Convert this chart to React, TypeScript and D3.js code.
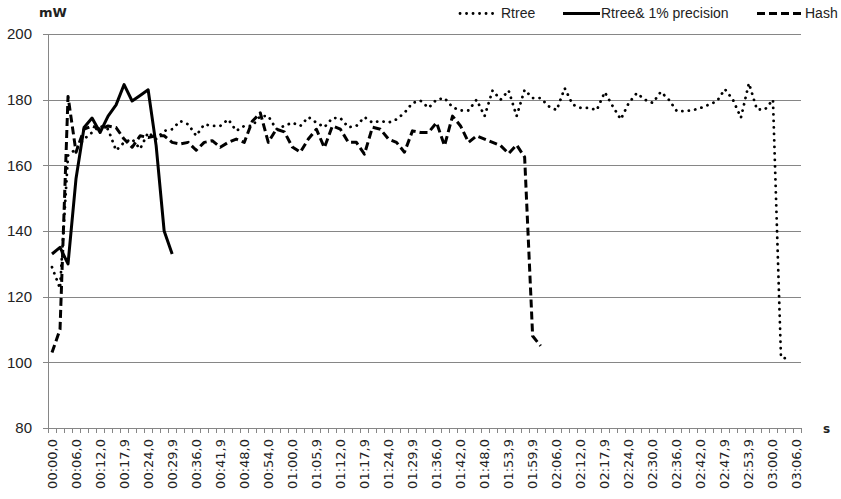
import React from "react";
import * as d3 from "d3";

const tickLabels = [
  "00:00,0","00:06,0","00:12,0","00:17,9","00:24,0","00:29,9","00:36,0","00:41,9",
  "00:48,0","00:54,0","01:00,0","01:05,9","01:12,0","01:17,9","01:24,0","01:29,9",
  "01:36,0","01:42,0","01:48,0","01:53,9","01:59,9","02:06,0","02:12,0","02:17,9",
  "02:24,0","02:30,0","02:36,0","02:42,0","02:47,9","02:53,9","03:00,0","03:06,0",
];
const categoryCount = 94;
const labelEvery = 3;

const rtree = [
  129, 122.5, 163, 165, 168, 170, 172, 171, 164.5, 167,
  168, 165, 170, 168, 170.5, 171, 173.5, 172.5, 169, 172.5,
  172, 172, 174, 170.5, 172, 172, 175, 175, 171, 172,
  173, 172, 174.7, 173, 171.6, 174.4, 174.4, 171.6, 172, 174.7,
  173, 173.5, 173, 174, 176, 179, 179.7, 177.5, 180, 180.5,
  177.7, 176.7, 176.7, 180, 175, 182.8, 180, 182.8, 175, 183,
  180.5, 180.5, 178, 176.8, 183.5, 178.5, 177.5, 177.5, 176.8, 182.3,
  178, 174, 179, 182, 180, 179, 182.4, 180, 176.5, 176.5,
  176.8, 177.5, 178.5, 179.5, 183.2, 180, 174.5, 185, 177, 177,
  180, 101.5, 101,
];
const rtreePrecision = [
  133, 135, 130, 156, 171.5, 174.4, 170, 175, 178.4, 184.6,
  179.6, 181.3, 183, 166, 140, 133,
];
const hash = [
  103, 110, 181, 164, 171, 172, 171, 172, 171.5, 168,
  165.5, 169, 168.5, 169, 169, 167, 166.5, 167, 164.6, 167,
  167.5, 165.5, 167, 168, 167, 173.4, 176, 167, 171, 170.2,
  165.6, 164, 168, 171, 165.4, 172, 171, 167, 167, 163.4,
  171.6, 171, 168, 167, 164, 170.5, 170, 170, 173, 166,
  175, 172, 167, 169, 168, 167, 166, 163.6, 166.2, 162.5,
  108, 105,
];
const yTicks = [80, 100, 120, 140, 160, 180, 200];

const seriesList = [
  { name: "Rtree", values: rtree, dash: "0.1 6.4", cap: "round", width: 2.8 },
  { name: "Rtree& 1% precision", values: rtreePrecision, dash: "", cap: "butt", width: 3 },
  { name: "Hash", values: hash, dash: "8 4", cap: "butt", width: 3 },
];

export default function App() {
  const W = 841, H = 499;
  const left = 48, right = 801, top = 34, bottom = 428;
  const cats = d3.range(categoryCount);
  const x = d3.scaleBand<number>().domain(cats).range([left, right]).padding(0);
  const bw = x.bandwidth();
  const cx = (i: number) => (x(i) as number) + bw / 2;
  const y = d3.scaleLinear().domain([80, 200]).range([bottom, top]);
  const line = d3.line<number>().x((_, i) => cx(i)).y((v) => y(v)).curve(d3.curveLinear);
  const grey = "#868686";
  const legendItems = [
    { s: seriesList[0], x0: 460, x1: 498, tx: 501 },
    { s: seriesList[1], x0: 563, x1: 600, tx: 601 },
    { s: seriesList[2], x0: 757, x1: 803, tx: 805 },
  ];
  return (
    <svg width={W} height={H} style={{ position: "absolute", left: 0, top: 0, background: "#fff" }}>
      <rect x={0} y={0} width={W} height={H} fill="#fff" />
      {yTicks.filter((t) => t !== 80).map((t) => (
        <line key={"g" + t} x1={left} x2={right} y1={Math.round(y(t)) + 0.5} y2={Math.round(y(t)) + 0.5} stroke={grey} strokeWidth={1} />
      ))}
      {yTicks.map((t) => (
        <g key={"yt" + t}>
          <line x1={left - 5} x2={left} y1={Math.round(y(t)) + 0.5} y2={Math.round(y(t)) + 0.5} stroke={grey} />
          <text x={32} y={y(t)} dy="0.35em" textAnchor="end" fontFamily="Liberation Sans, Arial, sans-serif" fontSize={15} fill="#222">{t}</text>
        </g>
      ))}
      <line x1={left + 0.5} x2={left + 0.5} y1={top} y2={bottom} stroke={grey} />
      <line x1={left} x2={right} y1={bottom + 0.5} y2={bottom + 0.5} stroke={grey} />
      {d3.range(categoryCount + 1).map((k) => {
        const xx = Math.round(left + k * bw) + 0.5;
        return <line key={"xt" + k} x1={xx} x2={xx} y1={bottom} y2={bottom + 5} stroke={grey} />;
      })}
      {cats.filter((i) => i % labelEvery === 0).map((i) => (
        <text key={"xl" + i} transform={`translate(${cx(i) + 4.5},439) rotate(-90)`} textAnchor="end"
          fontFamily="DejaVu Sans, sans-serif" fontSize={13} fill="#222">{tickLabels[i / labelEvery]}</text>
      ))}
      <text x={39} y={17} fontFamily="DejaVu Sans, sans-serif" fontWeight="bold" fontSize={13} fill="#222">mW</text>
      <text x={823} y={433} fontFamily="DejaVu Sans, sans-serif" fontWeight="bold" fontSize={12} fill="#222">s</text>
      {seriesList.map((s) => (
        <path key={s.name} d={line(s.values) || ""} fill="none" stroke="#000" strokeWidth={s.width}
          strokeDasharray={s.dash || undefined} strokeLinecap={s.cap as any} strokeLinejoin="round" />
      ))}
      {legendItems.map((it) => (
        <g key={"lg" + it.s.name}>
          <line x1={it.x0} x2={it.x1} y1={13.5} y2={13.5} stroke="#000" strokeWidth={it.s.width}
            strokeDasharray={it.s.dash || undefined} strokeLinecap={it.s.cap as any} />
          <text x={it.tx} y={18} fontFamily="Liberation Sans, Arial, sans-serif" fontSize={14} fill="#222">{it.s.name}</text>
        </g>
      ))}
    </svg>
  );
}
